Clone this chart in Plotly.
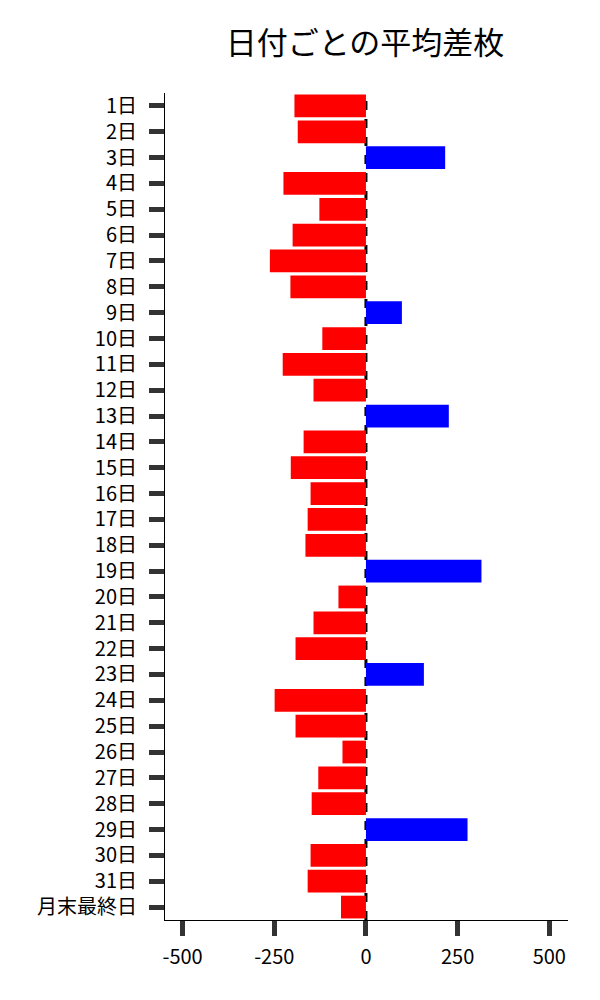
import plotly.graph_objects as go

days = [f"{i}日" for i in range(1, 32)] + ["月末最終日"]
avg_diff = [-195, -186, 216, -225, -127, -200, -262, -206, 98, -119,
            -227, -143, 226, -170, -205, -151, -159, -165, 315, -75,
            -143, -192, 158, -249, -192, -64, -130, -148, 277, -151,
            -159, -68]
x_tickvals = [-500, -250, 0, 250, 500]
x_ticktext = ["-500", "-250", "0", "250", "500"]

colors = ["#0000FF" if v > 0 else "#FF0000" for v in avg_diff]

FONT = "Noto Sans CJK JP"

fig = go.Figure()
fig.add_trace(go.Bar(
    x=avg_diff, y=days, orientation="h",
    marker=dict(color=colors, line=dict(width=0)),
    showlegend=False,
))

fig.add_shape(type="line", xref="x", yref="paper", x0=0, x1=0, y0=0, y1=1,
              line=dict(color="black", width=3, dash="dash"), layer="below")

fig.update_layout(
    width=600, height=1000,
    margin=dict(l=157, r=40, t=85, b=88),
    paper_bgcolor="white", plot_bgcolor="white",
    bargap=0.12,
    font=dict(family=FONT, size=20, color="black"),
    title=dict(text="日付ごとの平均差枚", xref="container", x=0.595, xanchor="center",
               y=0.965, yanchor="middle",
               font=dict(family=FONT, size=31, color="black")),
)
fig.update_xaxes(
    range=[-548, 551], tickvals=x_tickvals, ticktext=x_ticktext,
    showgrid=False, zeroline=False,
    showline=True, linecolor="black", linewidth=1,
    ticks="outside", ticklen=15, tickwidth=5, tickcolor="#333333",
    ticklabelstandoff=4,
)
fig.update_yaxes(
    autorange="reversed", showgrid=False, zeroline=False,
    showline=True, linecolor="black", linewidth=1,
    ticks="outside", ticklen=15, tickwidth=5, tickcolor="#333333",
    ticklabelstandoff=8,
)

fig.write_html("out.html")
